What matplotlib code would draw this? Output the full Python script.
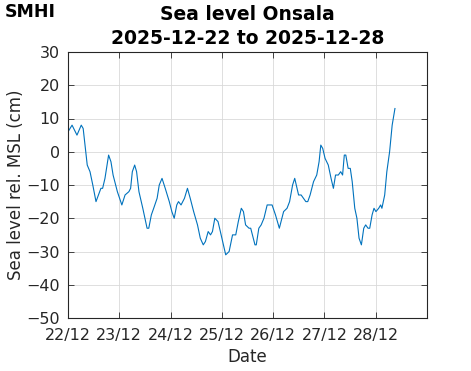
import numpy as np
import matplotlib.pyplot as plt

# Hourly-ish readings, hours since 2025-12-22 00:00
hours = [0.0, 1.9, 4.2, 6.2, 7.1, 9.0, 10.3, 11.6, 13.1, 15.4, 16.2, 17.3, 19.0, 20.1,
         21.1, 23.1, 25.2, 26.7, 28.5, 29.3, 30.1, 31.2, 32.1, 33.2, 35.0, 37.0, 37.8,
         39.0, 40.1, 41.7, 42.7, 44.0, 45.5, 47.4, 48.6, 49.7, 50.9, 51.7, 52.9, 54.5,
         55.9, 57.2, 58.8, 60.6, 61.9, 63.3, 64.3, 65.6, 66.7, 67.6, 68.7, 70.2, 71.3,
         73.8, 75.4, 77.0, 78.5, 79.7, 81.1, 82.1, 83.1, 84.7, 85.5, 87.5, 88.1, 89.3,
         90.4, 91.7, 93.2, 94.8, 95.5, 97.1, 98.9, 100.9, 102.5, 103.7, 105.1, 106.1,
         107.9, 109.1, 111.3, 112.2, 113.3, 114.9, 116.4, 117.5, 118.3, 119.2, 120.3,
         121.8, 123.1, 124.2, 125.2, 126.5, 127.6, 128.5, 129.3, 130.0, 131.1, 132.1,
         133.0, 134.2, 135.2, 136.2, 137.3, 138.4, 139.3, 140.4, 141.2, 142.3, 143.2,
         144.1, 145.4, 146.3, 146.9, 148.2, 149.2, 150.5, 151.7, 153.0]
level = [6, 8, 5, 8, 7, -4, -6, -10, -15, -11, -11, -8, -1, -3,
         -7, -12, -16, -13, -12, -11, -6, -4, -6, -12, -17, -23, -23,
         -19, -17, -14, -10, -8, -11, -15, -18, -20, -16, -15, -16, -14,
         -11, -14, -18, -22, -26, -28, -27, -24, -25, -24, -20, -21, -24,
         -31, -30, -25, -25, -21, -17, -18, -22, -23, -23, -28, -28, -23,
         -22, -20, -16, -16, -16, -19, -23, -18, -17, -15, -10, -8,
         -13, -13, -15, -15, -13, -9, -7, -3, 2, 1, -2,
         -4, -8, -11, -7, -7, -6, -7, -1, -1, -5, -5,
         -9, -17, -20, -26, -28, -23, -22, -23, -23, -19, -17,
         -18, -17, -16, -17, -13, -6, 0, 8, 13]

start_day = 22
tick_days = [22, 23, 24, 25, 26, 27, 28]
tick_labels = [f"{d}/12" for d in tick_days]

dark = '#262626'
plt.rcParams['font.family'] = ['DejaVu Sans']

fig = plt.figure(figsize=(4.71, 3.71), dpi=100)
ax = fig.add_axes([68 / 471, 1 - 318 / 371, 359 / 471, 266 / 371])

x = start_day + np.array(hours) / 24.0
ax.plot(x, level, color='#0072BD', linewidth=0.8)

ax.set_xlim(22, 29)
ax.set_ylim(-50, 30)
ax.set_xticks(tick_days)
ax.set_xticklabels(tick_labels)
ax.set_yticks(np.arange(-50, 31, 10))
ax.tick_params(direction='in', length=4, width=0.6, colors=dark, labelsize=11.5,
               top=True, right=True)
ax.tick_params(axis='x', pad=7)
ax.tick_params(axis='y', pad=6)
ax.grid(True, color='#d9d9d9', linewidth=0.6)
for s in ax.spines.values():
    s.set_color(dark)
    s.set_linewidth(0.8)

ax.set_xlabel('Date', fontsize=12, color=dark, labelpad=4)
ax.set_ylabel('Sea level rel. MSL (cm)', fontsize=12, color=dark, labelpad=1)
ax.set_title('Sea level Onsala\n2025-12-22 to 2025-12-28', fontsize=13.5,
             fontweight='bold', color='black', linespacing=1.3, pad=6)

fig.text(5 / 471, 1 - 3 / 371, 'SMHI', fontsize=12.5, fontweight='heavy',
         family=['Liberation Sans Narrow', 'DejaVu Sans'], va='top', ha='left')

fig.savefig('out.png', dpi=100)
